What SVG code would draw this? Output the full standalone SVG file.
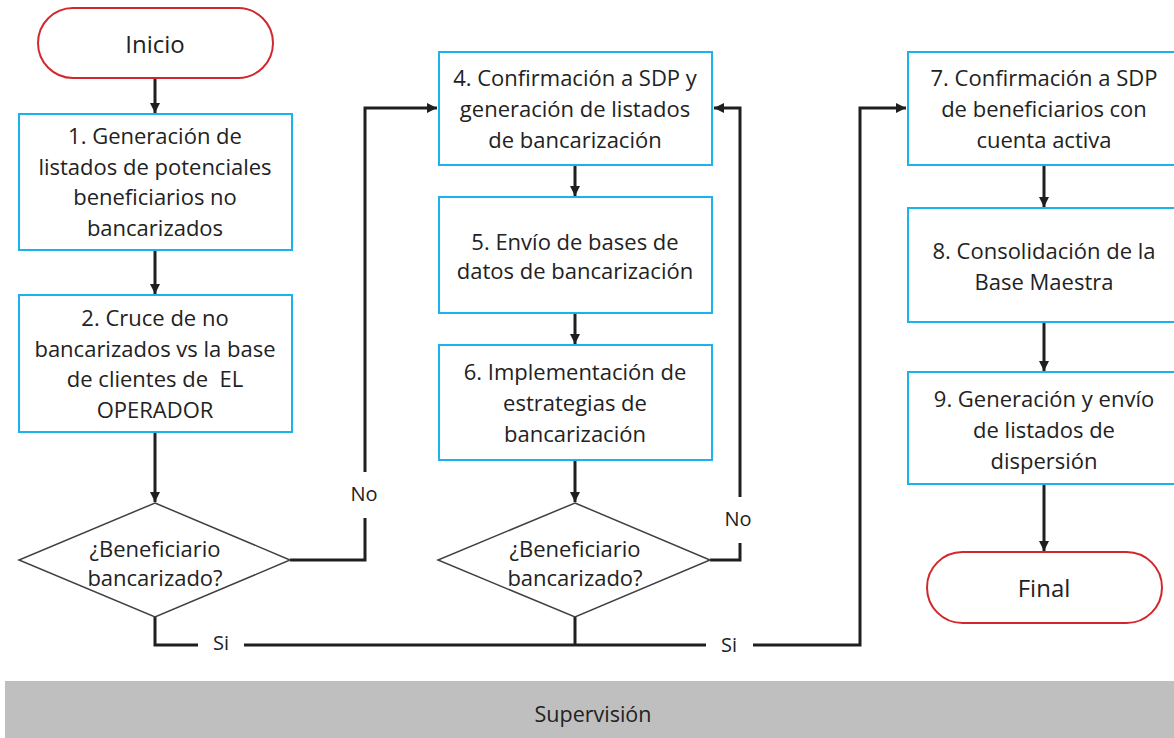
<svg xmlns="http://www.w3.org/2000/svg" width="1174" height="738" viewBox="0 0 1174 738">
<style>
text{font-family:"Open Sans","Noto Sans","Liberation Sans",sans-serif;font-size:22px;fill:#222;text-anchor:middle;dominant-baseline:central}
.box{fill:#fff;stroke:#1ab3ec;stroke-width:2}
.term{fill:#fff;stroke:#d0282e;stroke-width:2}
.dec{fill:#fff;stroke:#404040;stroke-width:1.5}
.con{fill:none;stroke:#1f1f1f;stroke-width:3}
.lbl{font-size:20px}
.tt{font-size:24px}
.sup{font-size:21.5px}
</style>
<defs>
<marker id="ah" markerUnits="userSpaceOnUse" markerWidth="12" markerHeight="12" refX="10" refY="5" orient="auto">
<path d="M0,0 L10,5 L0,10 Z" fill="#1f1f1f"/>
</marker>
</defs>
<rect x="5" y="681" width="1175" height="60" fill="#bfbfbf"/>
<text class="sup" x="593" y="713">Supervisión</text>
<g id="connectors">
<line class="con" x1="155" y1="78" x2="155" y2="113" marker-end="url(#ah)"/>
<line class="con" x1="155" y1="250" x2="155" y2="294" marker-end="url(#ah)"/>
<line class="con" x1="155" y1="432" x2="155" y2="502" marker-end="url(#ah)"/>
<polyline class="con" points="290,560 365,560 365,518"/>
<polyline class="con" points="365,472 365,108 437,108" marker-end="url(#ah)"/>
<line class="con" x1="575" y1="165" x2="575" y2="196" marker-end="url(#ah)"/>
<line class="con" x1="575" y1="313" x2="575" y2="344" marker-end="url(#ah)"/>
<line class="con" x1="575" y1="460" x2="575" y2="502" marker-end="url(#ah)"/>
<polyline class="con" points="710,560 740,560 740,543"/>
<polyline class="con" points="740,497 740,108 714,108" marker-end="url(#ah)"/>
<polyline class="con" points="155,617 155,645 198,645"/>
<line class="con" x1="244" y1="645" x2="706" y2="645"/>
<line class="con" x1="575" y1="617" x2="575" y2="645"/>
<polyline class="con" points="753,645 860,645 860,108 906,108" marker-end="url(#ah)"/>
<line class="con" x1="1044" y1="165" x2="1044" y2="207" marker-end="url(#ah)"/>
<line class="con" x1="1044" y1="322" x2="1044" y2="371" marker-end="url(#ah)"/>
<line class="con" x1="1044" y1="484" x2="1044" y2="551" marker-end="url(#ah)"/>
<text class="lbl" x="364" y="493">No</text>
<text class="lbl" x="738" y="518">No</text>
<text class="lbl" x="221" y="642">Si</text>
<text class="lbl" x="729" y="644">Si</text>
</g>
<g id="inicio">
<rect class="term" x="38" y="8" width="235" height="70" rx="35"/>
<text class="tt" x="155" y="43">Inicio</text>
</g>
<g id="n1">
<rect class="box" x="19" y="114" width="273" height="136"/>
<text x="155" y="135">1. Generación de</text>
<text x="155" y="166">listados de potenciales</text>
<text x="155" y="196">beneficiarios no</text>
<text x="155" y="227">bancarizados</text>
</g>
<g id="n2">
<rect class="box" x="19" y="295" width="273" height="137"/>
<text x="155" y="317">2. Cruce de no</text>
<text x="155" y="348">bancarizados vs la base</text>
<text x="155" y="378">de clientes de&#160; EL</text>
<text x="155" y="409">OPERADOR</text>
</g>
<g id="d1">
<polygon class="dec" points="155,503 290,560 155,617 19,560"/>
<text x="155" y="548">¿Beneficiario</text>
<text x="155" y="577">bancarizado?</text>
</g>
<g id="n4">
<rect class="box" x="439" y="52" width="273" height="113"/>
<text x="575" y="77">4. Confirmación a SDP y</text>
<text x="575" y="108">generación de listados</text>
<text x="575" y="139">de bancarización</text>
</g>
<g id="n5">
<rect class="box" x="439" y="197" width="273" height="116"/>
<text x="575" y="241">5. Envío de bases de</text>
<text x="575" y="270">datos de bancarización</text>
</g>
<g id="n6">
<rect class="box" x="439" y="345" width="273" height="115"/>
<text x="575" y="371">6. Implementación de</text>
<text x="575" y="402">estrategias de</text>
<text x="575" y="433">bancarización</text>
</g>
<g id="d2">
<polygon class="dec" points="575,503 710,560 575,617 438,560"/>
<text x="575" y="548">¿Beneficiario</text>
<text x="575" y="577">bancarizado?</text>
</g>
<g id="n7">
<rect class="box" x="908" y="52" width="274" height="113"/>
<text x="1044" y="77">7. Confirmación a SDP</text>
<text x="1044" y="108">de beneficiarios con</text>
<text x="1044" y="139">cuenta activa</text>
</g>
<g id="n8">
<rect class="box" x="908" y="208" width="274" height="114"/>
<text x="1044" y="250">8. Consolidación de la</text>
<text x="1044" y="281">Base Maestra</text>
</g>
<g id="n9">
<rect class="box" x="908" y="372" width="274" height="112"/>
<text x="1044" y="398">9. Generación y envío</text>
<text x="1044" y="429">de listados de</text>
<text x="1044" y="460">dispersión</text>
</g>
<g id="final">
<rect class="term" x="927" y="552" width="235" height="71" rx="35.5"/>
<text class="tt" x="1044" y="587">Final</text>
</g>
</svg>
